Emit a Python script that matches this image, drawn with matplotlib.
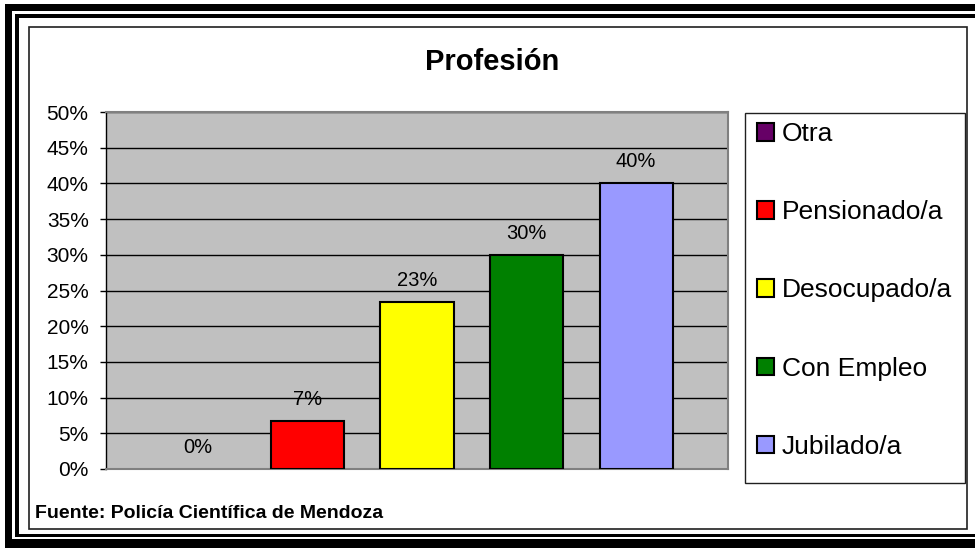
import matplotlib
matplotlib.use("Agg")
import matplotlib.pyplot as plt
from matplotlib.patches import Rectangle, Patch
from matplotlib.ticker import MultipleLocator, PercentFormatter

plt.rcParams['font.family'] = ['Liberation Sans', 'DejaVu Sans']

# data
series = ['Otra', 'Pensionado/a', 'Desocupado/a', 'Con Empleo', 'Jubilado/a']
values = [0.0, 6.67, 23.33, 30.0, 40.0]
labels = ['0%', '7%', '23%', '30%', '40%']
colors = ['#660066', '#FF0000', '#FFFF00', '#008000', '#9999FF']

W, H = 975, 549
fig = plt.figure(figsize=(W / 100, H / 100), dpi=100)


def frac_rect(x0, y0, x1, y1, **kw):
    # pixel box (top-left origin) -> figure rectangle
    return Rectangle((x0 / W, 1 - y1 / H), (x1 - x0) / W, (y1 - y0) / H,
                     transform=fig.transFigure, **kw)


# double black frame (cut off on the right)
fig.patches.append(frac_rect(5, 4, 1000, 548, facecolor='black', edgecolor='none', zorder=0))
fig.patches.append(frac_rect(12, 11, 1000, 539, facecolor='white', edgecolor='none', zorder=0))
fig.patches.append(frac_rect(15, 14, 1000, 537, facecolor='black', edgecolor='none', zorder=0))
fig.patches.append(frac_rect(19, 18, 1000, 534, facecolor='white', edgecolor='none', zorder=0))
# chart area border
fig.patches.append(frac_rect(29, 27, 967, 529, facecolor='white', edgecolor='#202020',
                             linewidth=1.2, zorder=0))
# legend box
fig.patches.append(frac_rect(745, 113, 965, 483, facecolor='white', edgecolor='#202020',
                             linewidth=1.0, zorder=1))

ax = fig.add_axes([106 / W, 1 - 469 / H, 622 / W, 357 / H])
ax.set_zorder(3)
ax.set_facecolor('#C0C0C0')

pos = [i - 2 for i in range(len(series))]
bw = 73 / 109.5
# zero-height bar leaves no visible outline in the original
edge_w = [1.5 if v > 0 else 0 for v in values]
ax.bar(pos, values, width=bw, color=colors, edgecolor='black', linewidth=edge_w, zorder=3)

for x, v, t in zip(pos, values, labels):
    ax.annotate(t, (x, v), xytext=(0, 15.5), textcoords='offset points',
                ha='center', va='center', fontsize=14.5, zorder=4)

ax.set_xlim(-2.84, 2.84)
ax.set_ylim(0, 50)
ax.yaxis.set_major_locator(MultipleLocator(5))
ax.yaxis.set_major_formatter(PercentFormatter(decimals=0))
ax.grid(axis='y', color='black', linewidth=1.0, zorder=1)
ax.set_axisbelow(True)
ax.set_xticks([])
ax.tick_params(axis='y', direction='out', length=4.5, width=1, pad=8, labelsize=15)
for s in ['top', 'right', 'bottom']:
    ax.spines[s].set_color('#808080')
    ax.spines[s].set_linewidth(1.5)
ax.spines['left'].set_color('black')
ax.spines['left'].set_linewidth(1.0)

handles = [Patch(facecolor=c, edgecolor='black', linewidth=1.5) for c in colors]
leg = fig.legend(handles, series, loc='center left', bbox_to_anchor=(757 / W, 1 - 290.5 / H),
                 frameon=False, fontsize=19, handlelength=0.65, handleheight=0.65,
                 handletextpad=0.3, labelspacing=2.05, borderpad=0, borderaxespad=0)
leg.set_zorder(5)

fig.text(492 / W, 1 - 62 / H, 'Profesión', ha='center', va='center',
         fontsize=21, fontweight='bold')
fig.text(35 / W, 1 - 513 / H, 'Fuente: Policía Científica de Mendoza', ha='left',
         va='center', fontsize=14, fontweight='bold')

fig.savefig('out.png', dpi=100)
